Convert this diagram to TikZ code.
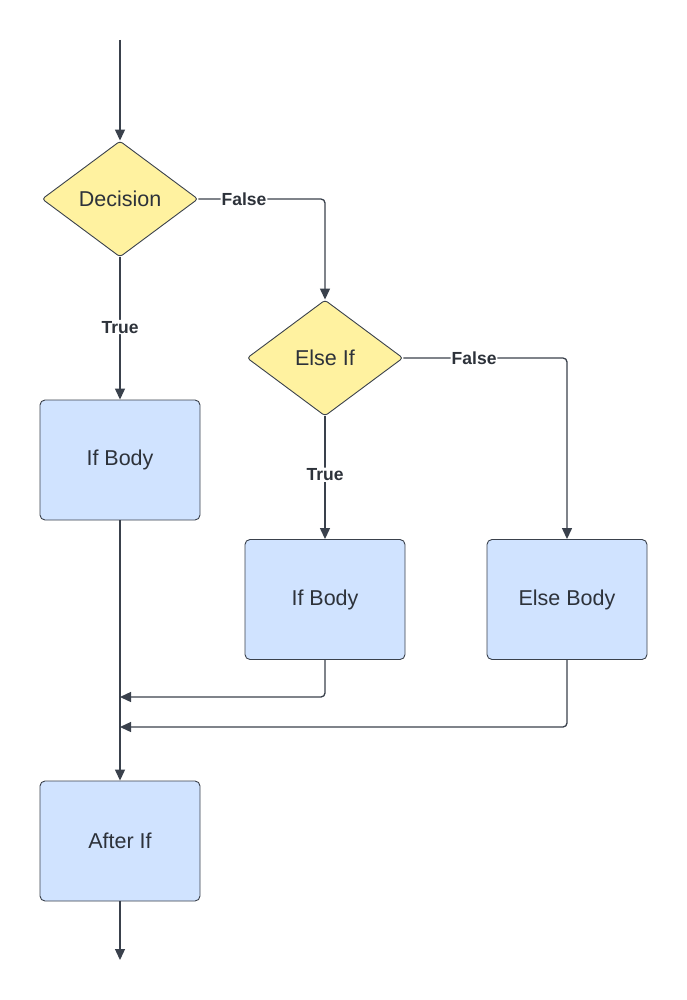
\documentclass[tikz,border=0pt]{standalone}
\usepackage{fontspec}
\setmainfont{Liberation Sans}
\usetikzlibrary{shapes.geometric,arrows.meta,positioning}
\definecolor{mylemon}{RGB}{255,242,160}
\definecolor{mysky}{RGB}{208,227,255}
\definecolor{myslate}{RGB}{58,65,76}
\definecolor{myink}{RGB}{45,50,58}

\begin{document}
\begin{tikzpicture}[
  x=1pt, y=-1pt,
  line width=1.3pt,
  >={Triangle[length=11pt,width=10pt]},
  mydiamond/.style={
    diamond,
    draw=myslate,
    fill=mylemon,
    line width=0.9pt,
    rounded corners=3pt,
    minimum width=156pt,
    minimum height=116pt,
    inner sep=0pt,
    text=myink,
    font=\fontsize{21.5}{24}\selectfont
    },
  mybox/.style={
    rectangle,
    draw=myslate,
    fill=mysky,
    line width=0.9pt,
    rounded corners=5pt,
    minimum width=160pt,
    minimum height=120pt,
    text=myink,
    font=\fontsize{21.5}{24}\selectfont
    },
  mylabel/.style={
    fill=white,
    inner sep=1pt,
    text=myink,
    font=\bfseries\fontsize{17.5}{19}\selectfont
    },
  myline/.style={draw=myslate, ->, rounded corners=4pt}
]
\useasboundingbox (0,0) rectangle (687,1000);

\coordinate (start) at (120,40);
\node [mydiamond] (dec) at (120,199) {Decision};
\node [mydiamond] (elif) at (325,358) {Else If};
\node [mybox] (ifA) at (120,460) {If Body};
\node [mybox] (ifB) at (325,599.5) {If Body};
\node [mybox] (els) at (567,599.5) {Else Body};
\node [mybox] (after) at (120,841) {After If};
\coordinate (joinB) at (120,697);
\coordinate (joinC) at (120,727);
\coordinate (end) at (120,960);

\draw [myline] (start) -- (dec.north);
\draw [myline] (dec.east) -| node [mylabel, pos=0.18] {False} (elif.north);
\draw [myline] (dec.south) -- node [mylabel, pos=0.49] {True} (ifA.north);
\draw [myline] (elif.east) -| node [mylabel, pos=0.216] {False} (els.north);
\draw [myline] (elif.south) -- node [mylabel, pos=0.476] {True} (ifB.north);
\draw [myline] (ifA.south) -- (after.north);
\draw [myline] (ifB.south) |- (joinB);
\draw [myline] (els.south) |- (joinC);
\draw [myline] (after.south) -- (end);

\end{tikzpicture}
\end{document}
